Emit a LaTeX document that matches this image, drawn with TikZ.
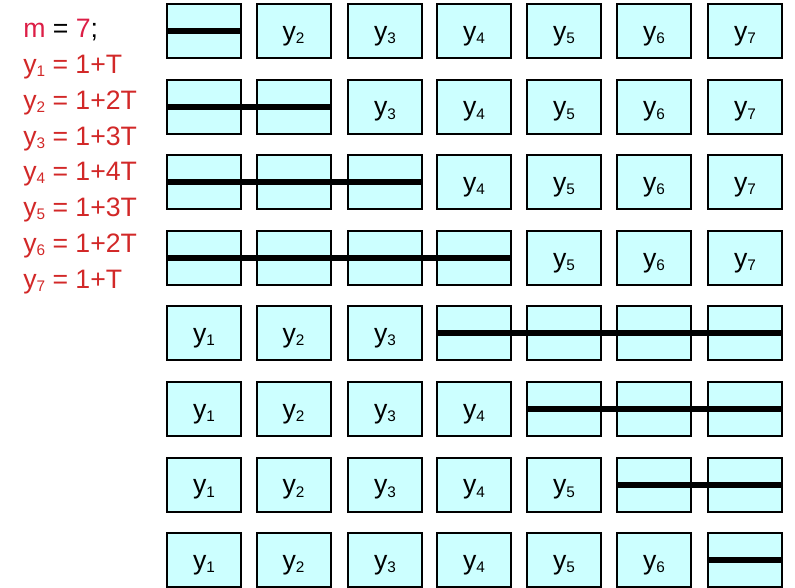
\documentclass[tikz,border=0pt]{standalone}
\usepackage{fontspec}
\setmainfont{Liberation Sans}
\usepackage{xcolor}
\usetikzlibrary{positioning}

\definecolor{cellfill}{HTML}{CCFFFF}
\definecolor{mred}{HTML}{DC1E46}
\definecolor{yred}{HTML}{D22828}

\newcommand{\ysub}[1]{y\raisebox{-0.12em}{\fontsize{11.5pt}{11.5pt}\selectfont #1}}

\tikzset{
  cell/.style={draw=black, fill=cellfill, line width=1.5pt,
    minimum width=55.5pt, minimum height=40.5pt, inner sep=0pt,
    text height=14pt, text depth=0pt,
    font=\fontsize{20pt}{20pt}\selectfont},
  strike/.style={line width=4.5pt},
  eqn/.style={anchor=base west, inner sep=0pt,
    font=\fontsize{20pt}{20pt}\selectfont, text=yred}
}

\begin{document}
\begin{tikzpicture}[x=0.75pt, y=-0.75pt]
  \useasboundingbox (0,0) rectangle (795,587);
  % Equations on the left
  \node[eqn, text=black] (m) at (23,37)
    {\textcolor{mred}{m} = \textcolor{mred}{7};};
  \node[eqn] (e1) at (23,73)  {\ysub{1} = 1+T};
  \node[eqn] (e2) at (23,109) {\ysub{2} = 1+2T};
  \node[eqn] (e3) at (23,145) {\ysub{3} = 1+3T};
  \node[eqn] (e4) at (23,180) {\ysub{4} = 1+4T};
  \node[eqn] (e5) at (23,216) {\ysub{5} = 1+3T};
  \node[eqn] (e6) at (23,252) {\ysub{6} = 1+2T};
  \node[eqn] (e7) at (23,288) {\ysub{7} = 1+T};
  % Grid of cells, struck cells from \first to \last
  \foreach \r/\yc/\first/\last in {0/31/1/1, 1/106.6/1/2, 2/182.2/1/3,
      3/257.8/1/4, 4/333.4/4/7, 5/409/5/7, 6/484.6/6/7, 7/560.2/7/7} {
    \foreach \c/\xc in {1/204, 2/293.5, 3/385, 4/474, 5/564, 6/654, 7/745} {
      \node[cell] (b-\r-\c) at (\xc,\yc)
        {\ifnum\c<\first \ysub{\c}\else\ifnum\c>\last \ysub{\c}\fi\fi};
    }
    \draw[strike] (b-\r-\first.west) -- (b-\r-\last.east);
  }
\end{tikzpicture}
\end{document}
